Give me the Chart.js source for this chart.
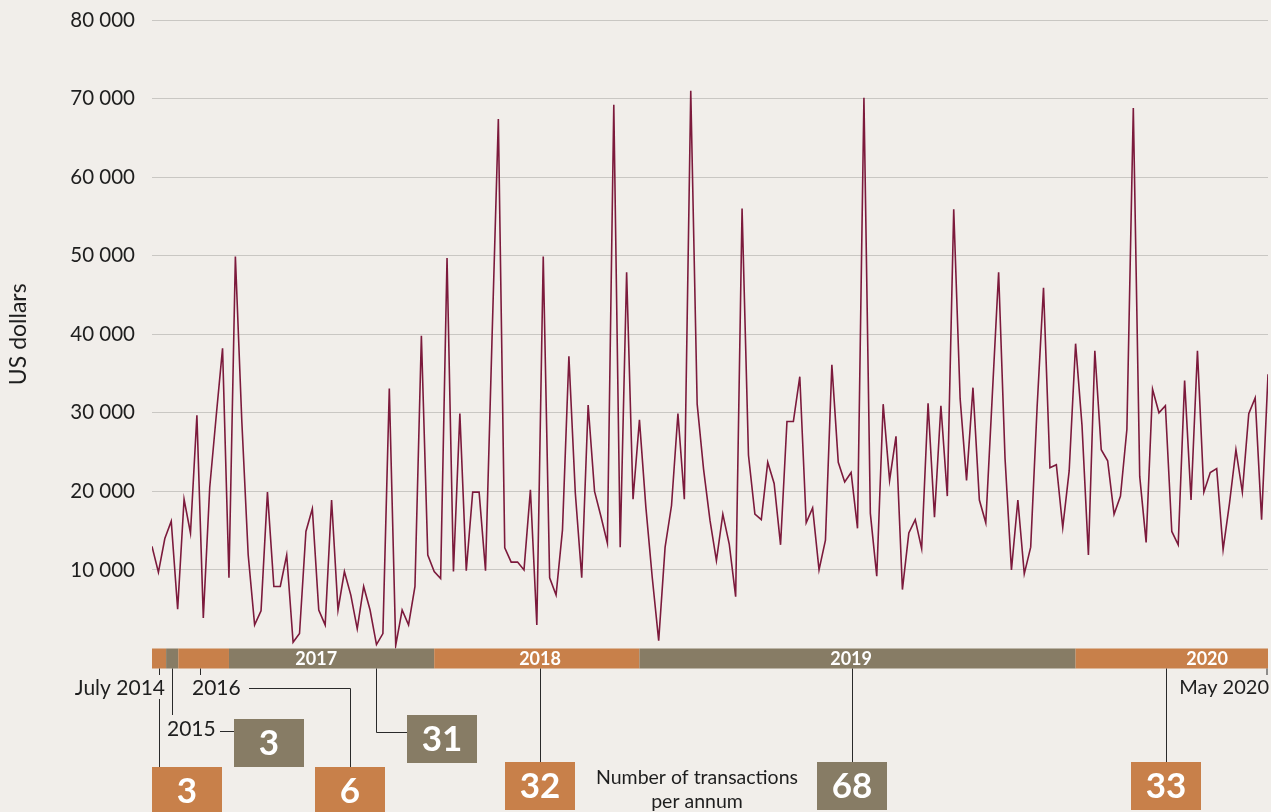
<!DOCTYPE html>
<html>
<head>
<meta charset="utf-8">
<script src="https://cdn.jsdelivr.net/npm/chart.js@4.4.1/dist/chart.umd.min.js"></script>
<style>
  html, body { margin: 0; padding: 0; background: #f1eeea; overflow: hidden; }
  canvas { display: block; }
</style>
</head>
<body>
<canvas id="txChart" width="1271" height="812"></canvas>
<script>
    // transaction amounts in US dollars, in order, July 2014 - May 2020
    const amounts = [
        13000, 9700, 14000, 16200, 5000, 19000, 14700, 29700, 3900, 20500,
        29500, 38200, 9000, 49900, 29000, 11900, 3000, 4800, 19900, 7900,
        7900, 11900, 800, 1900, 14900, 17800, 4900, 3000, 18900, 4900,
        9800, 6800, 2500, 7900, 4900, 500, 1900, 33100, 400, 4900,
        3000, 7900, 39800, 11900, 9800, 8900, 49700, 9800, 29900, 9900,
        19900, 19900, 9900, 39000, 67400, 12800, 11000, 11000, 10000, 20200,
        3000, 49900, 9000, 6800, 15100, 37200, 19800, 9000, 31000, 20000,
        16800, 13400, 69200, 12900, 47900, 19000, 29100, 18000, 9000, 1000,
        12900, 18200, 29900, 19000, 71000, 31100, 22800, 16300, 11200, 17100,
        13300, 6600, 56000, 24600, 17100, 16400, 23700, 21000, 13200, 28900,
        28900, 34600, 16000, 17900, 10000, 13800, 36100, 23700, 21200, 22400,
        15300, 70100, 17200, 9200, 31100, 21400, 27000, 7500, 14700, 16400,
        12700, 31200, 16700, 30900, 19400, 55900, 31800, 21400, 33200, 18900,
        16000, 32000, 47900, 24200, 10000, 18900, 9500, 12900, 30700, 45900,
        23000, 23400, 15400, 22600, 38800, 28400, 11900, 37900, 25300, 23900,
        17100, 19400, 27900, 68800, 21900, 13500, 33000, 30000, 30900, 14900,
        13200, 34100, 18900, 37900, 19900, 22400, 22900, 12600, 18500, 25300,
        19900, 29900, 31900, 16400, 34900
    ];

    // year bands along the x axis (in transaction index units)
    const years = ['2014', '2015', '2016', '2017', '2018', '2019', '2020'];
    const bandEdges = [0, 2.2, 4.1, 12, 44, 76, 144, 174];
    const bandLabelAt = [null, null, null, 25.6, 60.5, 109, 164.5];
    const txPerYear = [3, 3, 6, 31, 32, 68, 33];
    const yTicks = [10000, 20000, 30000, 40000, 50000, 60000, 70000, 80000];

    const ORANGE = '#c8804a';
    const GREY = '#877c65';
    const FONT = 'Lato, "Noto Sans", sans-serif';

    function fmt(v) {
        return String(v).replace(/\B(?=(\d{3})+(?!\d))/g, ' ');
    }

    // draws the year band, leader lines and the count boxes under the plot
    const bottomPanel = {
        id: 'bottomPanel',
        afterDraw(chart) {
            const ctx = chart.ctx;
            const xs = chart.scales.x;
            const top = chart.chartArea.bottom;
            const bandH = 20;

            ctx.save();
            // year band
            for (let i = 0; i < years.length; i++) {
                const x0 = xs.getPixelForValue(bandEdges[i]);
                const x1 = xs.getPixelForValue(bandEdges[i + 1]);
                ctx.fillStyle = i % 2 === 0 ? ORANGE : GREY;
                ctx.fillRect(x0, top, x1 - x0, bandH);
                if (bandLabelAt[i] !== null) {
                    ctx.fillStyle = '#ffffff';
                    ctx.font = 'bold 18px ' + FONT;
                    ctx.textAlign = 'center';
                    ctx.textBaseline = 'middle';
                    ctx.fillText(years[i], xs.getPixelForValue(bandLabelAt[i]), top + bandH / 2 + 1);
                }
            }

            const bandBottom = top + bandH;
            ctx.strokeStyle = '#2a2a2a';
            ctx.lineWidth = 1;
            function line(pts) {
                ctx.beginPath();
                ctx.moveTo(pts[0][0], pts[0][1]);
                for (let k = 1; k < pts.length; k++) ctx.lineTo(pts[k][0], pts[k][1]);
                ctx.stroke();
            }
            function label(text, x, y, align, size) {
                ctx.fillStyle = '#1e1e1e';
                ctx.font = (size || 20) + 'px ' + FONT;
                ctx.textAlign = align;
                ctx.textBaseline = 'middle';
                ctx.fillText(text, x, y);
            }
            function box(n, x, y, w, h, color) {
                ctx.fillStyle = color;
                ctx.fillRect(x, y, w, h);
                ctx.fillStyle = '#ffffff';
                ctx.font = 'bold 35px ' + FONT;
                ctx.textAlign = 'center';
                ctx.textBaseline = 'middle';
                ctx.fillText(String(n), x + w / 2, y + h / 2 + 1);
            }

            // July 2014
            line([[159.5, bandBottom], [159.5, 675]]);
            label('July 2014', 165, 688, 'right', 21);
            line([[159.5, 699], [159.5, 767]]);
            box(txPerYear[0], 152, 767, 70, 48, ORANGE);

            // 2015
            line([[172.5, bandBottom], [172.5, 715]]);
            label('2015', 167, 729, 'left', 21);
            line([[220, 731.5], [234, 731.5]]);
            box(txPerYear[1], 234, 719, 70, 48, GREY);

            // 2016
            line([[200.5, bandBottom], [200.5, 675]]);
            label('2016', 192, 688, 'left', 21);
            line([[249, 688.5], [350.5, 688.5], [350.5, 767]]);
            box(txPerYear[2], 315, 767, 70, 48, ORANGE);

            // 2017
            line([[376.5, bandBottom], [376.5, 732.5], [407, 732.5]]);
            box(txPerYear[3], 407, 715, 70, 48, GREY);

            // 2018
            line([[540.5, bandBottom], [540.5, 762]]);
            box(txPerYear[4], 505, 762, 70, 48, ORANGE);

            label('Number of transactions', 697, 778, 'center', 19.5);
            label('per annum', 697, 802, 'center', 19.5);

            // 2019
            line([[852.5, bandBottom], [852.5, 762]]);
            box(txPerYear[5], 817, 762, 70, 48, GREY);

            // 2020
            line([[1166.5, bandBottom], [1166.5, 762]]);
            box(txPerYear[6], 1131, 762, 70, 48, ORANGE);

            // May 2020
            line([[1267, bandBottom], [1267, 675]]);
            label('May 2020', 1269, 688, 'right', 20);

            ctx.restore();
        }
    };

    const ctx = document.getElementById('txChart').getContext('2d');
    const txChart = new Chart(ctx, {
        type: 'line',
        data: {
            datasets: [{
                label: 'Transaction value',
                data: amounts.map((v, i) => ({ x: i, y: v })),
                borderColor: '#7c1a3c',
                borderWidth: 1.6,
                pointRadius: 0,
                tension: 0,
                fill: false
            }]
        },
        options: {
            responsive: false,
            animation: false,
            devicePixelRatio: 1,
            layout: {
                padding: { top: 20, right: 3, bottom: 163.5, left: 0 }
            },
            plugins: {
                legend: { display: false },
                tooltip: { enabled: false }
            },
            scales: {
                x: {
                    type: 'linear',
                    min: 0,
                    max: amounts.length - 1,
                    display: false
                },
                y: {
                    min: 0,
                    max: 80000,
                    afterFit(scale) {
                        scale.width = 152;
                        scale.paddingTop = 0;
                        scale.paddingBottom = 0;
                    },
                    afterBuildTicks(scale) {
                        scale.ticks = yTicks.map(v => ({ value: v }));
                    },
                    border: { display: false },
                    grid: {
                        color: '#c9c7c3',
                        lineWidth: 1,
                        drawTicks: false
                    },
                    ticks: {
                        padding: 17,
                        color: '#1e1e1e',
                        font: { family: FONT, size: 20.5 },
                        callback: v => fmt(v)
                    },
                    title: {
                        display: true,
                        text: 'US dollars',
                        color: '#1e1e1e',
                        font: { family: FONT, size: 23 },
                        padding: { top: 5, bottom: 0 }
                    }
                }
            }
        },
        plugins: [bottomPanel]
    });
</script>
</body>
</html>
